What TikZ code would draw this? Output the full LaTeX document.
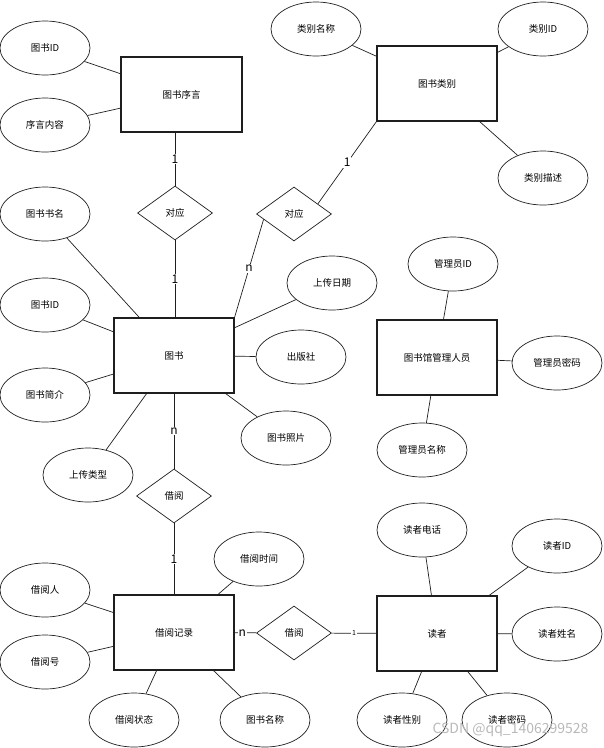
\documentclass[tikz,border=0pt]{standalone}
\usepackage{fontspec}
\setmainfont{Noto Sans CJK SC}
\usetikzlibrary{shapes.geometric, calc}
\definecolor{ink}{HTML}{1E1E1E}
\newcommand{\AttrF}{\fontsize{9.5}{11}\selectfont}
\newcommand{\CardF}{\fontsize{12}{14}\selectfont}
\newcommand{\SmallF}{\fontsize{7}{8}\selectfont}

\tikzset{
  entity/.style={draw=ink, line width=1.1pt, minimum width=120pt, minimum height=75pt,
                 inner sep=0pt, font=\AttrF},
  attr/.style={ellipse, draw=ink, line width=0.7pt, minimum width=90pt, minimum height=54pt,
               inner sep=0pt, font=\AttrF},
  rel/.style={diamond, draw=ink, line width=0.7pt, minimum width=75pt, minimum height=54pt,
              aspect=1.4, inner sep=0pt, font=\AttrF},
  link/.style={draw=ink, line width=0.7pt},
  card/.style={fill=white, inner sep=1pt, font=\CardF},
}

\begin{document}
\begin{tikzpicture}[x=1pt, y=-1pt]
  \useasboundingbox (0,0) rectangle (604,748);

  % book preface
  \node[entity, minimum width=121pt] (pref) at (181.5,94.5) {图书序言};
  \node[attr] (prefid)   at (45,48)  {图书ID};
  \node[attr] (prefcont) at (45,125) {序言内容};
  \node[rel]  (corr1)    at (175,213) {对应};

  % book category
  \node[entity] (cat) at (437,83.5) {图书类别};
  \node[attr] (catname) at (316,29)  {类别名称};
  \node[attr] (catid)   at (543,29)  {类别ID};
  \node[attr] (catdesc) at (543,178) {类别描述};
  \node[rel]  (corr2)   at (294,214) {对应};

  % book
  \node[entity] (book) at (174,355.5) {图书};
  \node[attr] (bkname)  at (45,214)  {图书书名};
  \node[attr] (bkid)    at (45,305)  {图书ID};
  \node[attr] (bkintro) at (45,395)  {图书简介};
  \node[attr] (bktype)  at (88,475)  {上传类型};
  \node[attr] (bkdate)  at (332,283) {上传日期};
  \node[attr] (bkpub)   at (301,357) {出版社};
  \node[attr] (bkpic)   at (286,438) {图书照片};

  % librarian
  \node[entity] (admin) at (437,357.5) {图书馆管理人员};
  \node[attr] (adid)   at (453,264) {管理员ID};
  \node[attr] (adpwd)  at (557,363) {管理员密码};
  \node[attr] (adname) at (422,450) {管理员名称};

  % borrow record
  \node[rel]    (borrow1) at (174,496) {借阅};
  \node[entity] (rec) at (174,632.5) {借阅记录};
  \node[attr] (rectime)  at (259,559) {借阅时间};
  \node[attr] (recuser)  at (45,590)  {借阅人};
  \node[attr] (recno)    at (45,662)  {借阅号};
  \node[attr] (recstate) at (134,720) {借阅状态};
  \node[attr] (recbook)  at (265,720) {图书名称};

  % reader
  \node[rel]    (borrow2) at (294,633) {借阅};
  \node[entity] (reader) at (437,633.5) {读者};
  \node[attr] (rdtel)  at (422,530) {读者电话};
  \node[attr] (rdid)   at (557,546) {读者ID};
  \node[attr] (rdname) at (557,634) {读者姓名};
  \node[attr] (rdsex)  at (402,720) {读者性别};
  \node[attr] (rdpwd)  at (507,720) {读者密码};

  % attribute links
  \foreach \a/\e in {prefid/pref, prefcont/pref,
                     catname/cat, catid/cat, catdesc/cat,
                     bkname/book, bkid/book, bkintro/book, bktype/book,
                     bkdate/book, bkpub/book, bkpic/book,
                     adid/admin, adpwd/admin, adname/admin,
                     rectime/rec, recuser/rec, recno/rec, recstate/rec, recbook/rec,
                     rdtel/reader, rdid/reader, rdname/reader, rdsex/reader, rdpwd/reader}
    \draw[link] (\a) -- (\e);

  % relationship links
  \draw[link] (corr1 |- pref.south) -- node[card] {1} (corr1);
  \draw[link] (corr1) -- node[card] {1} (corr1 |- book.north);
  \draw[link] (corr2.190) -- node[card] {n} (book.north east);
  \draw[link] (corr2.23) -- node[card] {1} (cat.south west);
  \draw[link] (book) -- node[card] {n} (borrow1);
  \draw[link] (borrow1) -- node[card] {1} (rec);
  \draw[link] (rec) -- node[card, pos=0.35] {n} (borrow2);
  \draw[link] (borrow2) -- node[card, font=\SmallF] {1} (reader);

  \node[text=gray!55, font=\fontsize{14}{16}\selectfont, anchor=east] (mark)
    at (592,730) {CSDN @qq\_1406299528};
\end{tikzpicture}
\end{document}
